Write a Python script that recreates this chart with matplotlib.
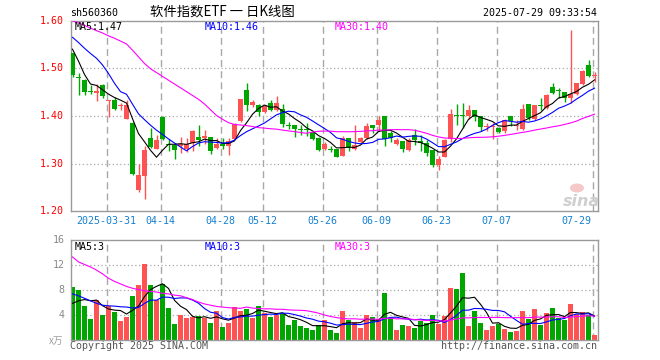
import numpy as np
import matplotlib
matplotlib.use("Agg")
import matplotlib.pyplot as plt
from matplotlib.patches import Ellipse

# ---------------- data ----------------
opens = [1.533,1.482,1.476,1.452,1.448,1.465,1.431,1.434,1.420,1.394,
         1.385,1.245,1.274,1.353,1.331,1.397,1.341,1.340,1.338,1.330,
         1.344,1.356,1.354,1.355,1.332,1.342,1.338,1.352,1.389,1.454,
         1.422,1.424,1.408,1.427,1.412,1.415,1.379,1.380,1.372,1.372,
         1.366,1.354,1.330,1.331,1.330,1.316,1.353,1.331,1.345,1.353,
         1.380,1.380,1.400,1.365,1.342,1.347,1.329,1.359,1.347,1.344,
         1.328,1.297,1.314,1.351,1.400,1.400,1.399,1.412,1.399,1.376,
         1.376,1.375,1.368,1.400,1.379,1.372,1.426,1.394,1.422,1.417,
         1.460,1.454,1.451,1.438,1.447,1.467,1.507,1.483]
highs = [1.533,1.491,1.477,1.465,1.467,1.467,1.434,1.439,1.428,1.434,
         1.387,1.299,1.338,1.374,1.359,1.399,1.352,1.344,1.356,1.354,
         1.370,1.380,1.370,1.355,1.354,1.354,1.354,1.385,1.435,1.470,
         1.433,1.426,1.424,1.434,1.442,1.426,1.387,1.380,1.382,1.385,
         1.368,1.356,1.345,1.338,1.330,1.358,1.354,1.382,1.356,1.385,
         1.380,1.400,1.400,1.368,1.354,1.347,1.354,1.372,1.359,1.349,
         1.328,1.315,1.351,1.415,1.426,1.427,1.424,1.412,1.399,1.386,
         1.386,1.377,1.394,1.400,1.391,1.426,1.426,1.424,1.438,1.447,
         1.469,1.458,1.451,1.580,1.470,1.497,1.517,1.493]
lows = [1.481,1.444,1.444,1.445,1.431,1.438,1.398,1.412,1.413,1.393,
        1.276,1.240,1.226,1.333,1.330,1.349,1.326,1.309,1.323,1.324,
        1.326,1.337,1.342,1.320,1.330,1.330,1.319,1.351,1.387,1.410,
        1.419,1.399,1.406,1.410,1.410,1.377,1.373,1.356,1.361,1.358,
        1.350,1.326,1.328,1.324,1.313,1.315,1.326,1.328,1.342,1.351,
        1.365,1.369,1.337,1.345,1.340,1.324,1.327,1.340,1.326,1.316,
        1.292,1.287,1.313,1.345,1.382,1.375,1.394,1.389,1.368,1.368,
        1.352,1.365,1.364,1.378,1.370,1.370,1.392,1.392,1.412,1.415,
        1.447,1.438,1.429,1.427,1.444,1.465,1.481,1.472]
closes = [1.486,1.479,1.451,1.451,1.453,1.441,1.433,1.415,1.424,1.422,
          1.278,1.276,1.329,1.335,1.349,1.351,1.339,1.329,1.341,1.342,
          1.368,1.349,1.357,1.326,1.342,1.338,1.348,1.384,1.435,1.422,
          1.429,1.408,1.420,1.412,1.427,1.384,1.378,1.372,1.371,1.371,
          1.352,1.328,1.342,1.329,1.314,1.354,1.333,1.340,1.353,1.378,
          1.374,1.392,1.352,1.354,1.349,1.330,1.350,1.349,1.344,1.322,
          1.297,1.310,1.349,1.405,1.399,1.399,1.412,1.397,1.377,1.379,
          1.377,1.366,1.392,1.389,1.381,1.415,1.396,1.422,1.420,1.444,
          1.449,1.453,1.438,1.447,1.469,1.494,1.484,1.484]
volumes = [8.53,8.05,5.55,3.47,6.50,4.05,5.44,4.59,3.15,3.73,
           6.99,8.85,12.10,8.75,6.35,9.01,5.17,2.61,4.05,3.63,
           3.68,3.84,3.63,2.77,4.75,2.13,2.77,5.28,4.75,5.01,
           3.57,5.49,4.37,3.73,4.10,4.27,2.45,3.31,2.30,2.00,
           1.65,2.40,3.25,1.60,1.17,4.75,3.31,2.93,1.97,4.05,
           3.73,3.41,7.57,3.57,1.65,2.45,2.29,1.97,3.04,2.77,
           4.05,2.67,3.95,8.37,8.21,10.77,2.29,4.69,2.77,1.65,
           2.29,2.61,1.81,1.33,1.49,4.69,3.41,5.01,2.45,4.37,
           5.17,3.57,3.31,5.81,4.21,4.53,4.00,0.85]

# moving-average values at the start of the window (need data before the window)
price_ma5_lead = [1.540, 1.515, 1.487, 1.467]
price_ma10_lead = [1.565, 1.554, 1.542, 1.531, 1.521, 1.507, 1.489, 1.4685, 1.451]
price_ma30_lead = [1.600, 1.595, 1.590, 1.584, 1.579, 1.574, 1.568, 1.563, 1.557, 1.551,
                   1.538, 1.524, 1.510, 1.499, 1.491, 1.483, 1.475, 1.467, 1.459, 1.451,
                   1.443, 1.435, 1.425, 1.413, 1.401, 1.393, 1.386, 1.382, 1.381]
vol_ma5_lead = [5.9, 6.3, 6.5, 6.3]
vol_ma10_lead = [7.4, 7.1, 6.7, 6.3, 5.9, 5.6, 5.5, 5.45, 5.35]
vol_ma30_lead = [13.3, 12.5, 12.1, 11.7, 11.2, 10.6, 9.9, 9.4, 9.0, 8.6,
                 8.3, 8.1, 7.9, 7.8, 7.7, 7.5, 7.4, 7.2, 7.1, 6.8,
                 6.5, 6.1, 5.8, 5.6, 5.4, 5.3, 5.2, 5.15, 5.1]

date_idx = [6, 15, 25, 32, 42, 51, 61, 71, 87]
date_labels = ["2025-03-31", "04-14", "04-28", "05-12", "05-26", "06-09", "06-23", "07-07", "07-29"]
price_ticks = [1.60, 1.50, 1.40, 1.30, 1.20]
vol_ticks = [16, 12, 8, 4]
price_ma_now = [1.47, 1.46, 1.40]
vol_ma_now = [3, 3, 3]

# ---------------- helpers ----------------
W, H = 660, 360
MONO = "DejaVu Sans Mono"
RED = "#ff5353"
GREEN = "#00a600"
GRID = "#a8a8a8"
SPINE = "#9a9a9a"


def ma(vals, n, lead):
    vals = np.asarray(vals, float)
    out = np.empty(len(vals))
    for i in range(len(vals)):
        out[i] = lead[i] if i < n - 1 else vals[i - n + 1:i + 1].mean()
    return out


def px_axes(x0, y0, x1, y1):
    return fig.add_axes([x0 / W, 1 - y1 / H, (x1 - x0) / W, (y1 - y0) / H])


def ftext(x, y, s, **kw):
    fig.text(x / W, 1 - y / H, s, **kw)


fig = plt.figure(figsize=(6.6, 3.6), dpi=100)
fig.patch.set_facecolor("white")

ax = px_axes(70.5, 20.6, 597.5, 211.3)
axv = px_axes(70.5, 240.0, 597.5, 340.3)

n = len(closes)
x = np.arange(n)
o = np.array(opens); c = np.array(closes); h = np.array(highs); l = np.array(lows)
up = c >= o
cols = np.where(up, RED, GREEN)

for a in (ax, axv):
    a.set_xlim(-1 / 3, 87.5)
    a.set_xticks([]); a.set_yticks([])
    for s in a.spines.values():
        s.set_color(SPINE); s.set_linewidth(1.0)
    for di in date_idx:
        a.axvline(di - 1 / 3, color=GRID, lw=1.0, ls=(0, (5, 3)), zorder=0)

ax.set_ylim(1.20, 1.60)
axv.set_ylim(0, 16)

for yv in [1.50, 1.40, 1.30]:
    ax.axhline(yv, color=GRID, lw=0.9, ls=(0, (1, 2)), zorder=0)
for yv in [12, 8, 4]:
    axv.axhline(yv, color=GRID, lw=0.9, ls=(0, (1, 2)), zorder=0)

# watermark (behind the data)
fig.patches.append(Ellipse((577 / W, 1 - 188 / H), 14 / W, 9 / H, transform=fig.transFigure,
                           facecolor="#f6c8c8", edgecolor="none", zorder=0.5))
ftext(581, 201, "sina", color="#cfcfcf", fontsize=11.5, weight="bold", style="italic",
      family="DejaVu Sans", ha="center", va="center", zorder=0.6)

# candles
bw = 5 / 6
minh = 0.4 / 190.7
ax.vlines(x, l, h, colors=cols, lw=1.0, zorder=2)
body_lo = np.minimum(o, c)
body_h = np.maximum(np.abs(c - o), minh)
ax.bar(x, body_h, bottom=body_lo, width=bw, color=cols, linewidth=0, zorder=3)

# price MAs
ax.plot(x, ma(c, 5, price_ma5_lead), color="black", lw=0.8, zorder=4)
ax.plot(x, ma(c, 10, price_ma10_lead), color="#0000ff", lw=0.8, zorder=4)
ax.plot(x, ma(c, 30, price_ma30_lead), color="#ff00ff", lw=0.8, zorder=4)

# volume
v = np.array(volumes)
axv.bar(x, v, width=bw, color=cols, linewidth=0, zorder=2)
axv.plot(x, ma(v, 5, vol_ma5_lead), color="black", lw=0.8, zorder=4)
axv.plot(x, ma(v, 10, vol_ma10_lead), color="#0000ff", lw=0.8, zorder=4)
axv.plot(x, ma(v, 30, vol_ma30_lead), color="#ff00ff", lw=0.8, zorder=4)

# tick labels
fs = 7.2
for pv in price_ticks:
    yy = 20.6 + (1.60 - pv) * 476.75
    ftext(64, yy, f"{pv:.2f}", color="#ff0000", fontsize=fs, family=MONO, ha="right", va="center")
for vv in vol_ticks:
    yy = 340.3 - vv * 100.3 / 16
    ftext(64.5, yy, f"{vv}", color="#888888", fontsize=fs, family=MONO, ha="right", va="center")

for di, lab in zip(date_idx, date_labels):
    gx = 72.5 + 6 * di - 2
    if di == date_idx[-1]:
        ftext(591.5, 221, lab, color="#1580d0", fontsize=fs, family=MONO, ha="right", va="center")
    else:
        ftext(gx, 221, lab, color="#1580d0", fontsize=fs, family=MONO, ha="center", va="center")

# headers
ftext(70, 13, "sh560360", color="black", fontsize=fs, family=MONO, ha="left", va="center")
ftext(150, 12, "软件指数ETF 一 日K线图", color="black", fontsize=9.6,
      family=["Noto Sans CJK SC", "DejaVu Sans"], ha="left", va="center")
ftext(597, 13, "2025-07-29 09:33:54", color="black", fontsize=fs, family=MONO, ha="right", va="center")

ma_cols = ["black", "#0000ff", "#ff00ff"]
ma_names = ["MA5", "MA10", "MA30"]
ma_x = [75, 205, 335]
for nm, val, col, xx in zip(ma_names, price_ma_now, ma_cols, ma_x):
    ftext(xx, 26.5, f"{nm}:{val:.2f}", color=col, fontsize=fs, family=MONO, ha="left", va="center")
for nm, val, col, xx in zip(ma_names, vol_ma_now, ma_cols, ma_x):
    ftext(xx, 246.5, f"{nm}:{val}", color=col, fontsize=fs, family=MONO, ha="left", va="center")

ftext(49, 341, "x万", color="#a0a0a0", fontsize=7, style="italic",
      family=["Noto Sans CJK SC", "DejaVu Sans"], ha="left", va="center")
ftext(70, 346, "Copyright 2025 SINA.COM", color="#555555", fontsize=fs, family=MONO, ha="left", va="center")
ftext(597, 346, "http://finance.sina.com.cn", color="#555555", fontsize=fs, family=MONO, ha="right", va="center")

fig.savefig("out.png", dpi=100)
